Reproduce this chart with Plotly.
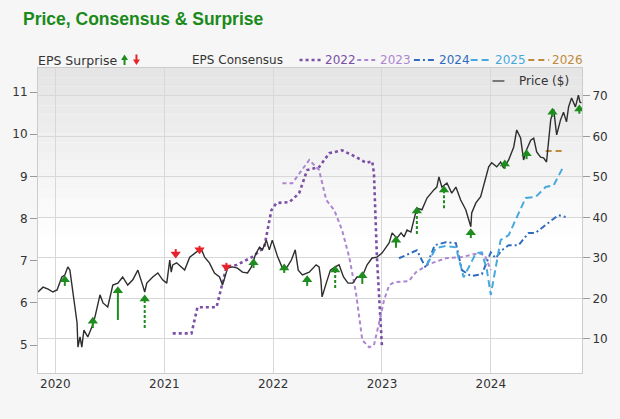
import plotly.graph_objects as go

# ---------------- data ----------------
price_dates = [
    "2019-11-04", "2019-11-21", "2019-12-08", "2019-12-24", "2020-01-07", "2020-01-23", "2020-02-02",
    "2020-02-12", "2020-02-19", "2020-02-29", "2020-03-14", "2020-03-17", "2020-03-24", "2020-03-30",
    "2020-04-06", "2020-04-19", "2020-05-03", "2020-05-13", "2020-05-30", "2020-06-09", "2020-06-25",
    "2020-07-12", "2020-07-29", "2020-08-14", "2020-08-31", "2020-09-17", "2020-10-04", "2020-10-20",
    "2020-10-27", "2020-11-03", "2020-11-23", "2020-12-10", "2020-12-26", "2021-01-09", "2021-01-19",
    "2021-01-24", "2021-01-29", "2021-02-11", "2021-03-10", "2021-03-27", "2021-04-19", "2021-05-06",
    "2021-05-16", "2021-06-01", "2021-06-18", "2021-07-05", "2021-07-15", "2021-08-01", "2021-08-17",
    "2021-09-03", "2021-09-20", "2021-10-07", "2021-10-20", "2021-11-02", "2021-11-16", "2021-11-26",
    "2021-12-09", "2021-12-19", "2021-12-29", "2022-01-15", "2022-02-01", "2022-02-17", "2022-03-03",
    "2022-03-16", "2022-03-26", "2022-04-09", "2022-05-02", "2022-05-25", "2022-06-04", "2022-06-10",
    "2022-06-14", "2022-06-28", "2022-07-12", "2022-07-28", "2022-08-10", "2022-08-25", "2022-09-09",
    "2022-09-25", "2022-10-09", "2022-10-26", "2022-11-12", "2022-11-29", "2022-12-15", "2023-01-01",
    "2023-01-14", "2023-01-25", "2023-02-04", "2023-02-20", "2023-03-06", "2023-03-16", "2023-03-26",
    "2023-04-08", "2023-04-18", "2023-04-24", "2023-04-28", "2023-05-15", "2023-06-01", "2023-06-24",
    "2023-07-04", "2023-07-11", "2023-07-21", "2023-08-07", "2023-08-23", "2023-09-06", "2023-09-22",
    "2023-10-09", "2023-10-19", "2023-10-26", "2023-10-29", "2023-11-12", "2023-11-28", "2023-12-15",
    "2023-12-25", "2024-01-04", "2024-01-21", "2024-02-03", "2024-02-13", "2024-03-01", "2024-03-18",
    "2024-03-28", "2024-04-10", "2024-04-20", "2024-04-30", "2024-05-14", "2024-05-24", "2024-06-03",
    "2024-06-16", "2024-06-26", "2024-07-06", "2024-07-20", "2024-07-30", "2024-08-09", "2024-08-22",
    "2024-09-01", "2024-09-11", "2024-09-18", "2024-09-28", "2024-10-11", "2024-10-21", "2024-10-26",
    "2024-10-31",
]
price_values = [
    21.6, 22.8, 22.3, 21.6, 22.1, 25.3, 25.8,
    27.8, 27.0, 21.6, 14.0, 8.0, 10.5, 8.0,
    12.2, 10.5, 13.0, 15.4, 20.9, 18.9, 17.9,
    23.3, 23.8, 25.3, 23.3, 24.6, 27.0, 23.3,
    21.6, 23.8, 25.3, 26.3, 24.6, 23.8, 29.5,
    26.5, 28.3, 28.8, 27.0, 30.2, 31.5, 32.0,
    30.2, 28.8, 26.3, 25.3, 23.3, 27.5, 27.8,
    27.5, 26.5, 26.3, 27.8, 30.7, 32.7, 32.0,
    34.4, 32.0, 34.4, 30.5, 27.5, 27.8, 29.5,
    32.0, 27.0, 25.8, 26.5, 28.3, 27.8, 24.6,
    20.4, 23.8, 27.0, 27.8, 28.3, 25.3, 23.8,
    23.8, 25.3, 25.3, 28.3, 30.0, 30.2, 31.2,
    32.7, 33.7, 36.2, 34.9, 36.2, 35.2, 36.9,
    36.4, 39.4, 41.4, 42.3, 41.9, 44.8, 46.8,
    47.5, 50.0, 47.5, 48.5, 46.0, 47.5, 44.3,
    41.9, 39.4, 37.7, 41.1, 43.6, 45.1, 50.0,
    52.5, 53.5, 52.5, 53.7, 52.2, 54.2, 57.4,
    61.6, 59.6, 54.2, 56.7, 59.1, 59.6, 56.2,
    54.9, 54.7, 53.7, 64.1, 66.7, 60.4, 64.1,
    66.0, 63.6, 67.3, 69.5, 67.3, 70.2, 68.5,
    68.3,
]

eps2022_dates = ["2021-01-29", "2021-04-02", "2021-04-22", "2021-06-25", "2021-07-28", "2021-08-31",
                 "2021-10-23", "2021-12-02", "2021-12-26", "2022-01-12", "2022-02-24", "2022-03-29",
                 "2022-04-25", "2022-06-04", "2022-07-08", "2022-08-20", "2022-10-06", "2022-11-09",
                 "2022-11-29", "2022-12-05", "2022-12-15", "2023-01-01"]
eps2022_values = [5.28, 5.28, 5.90, 5.90, 6.85, 6.90, 7.09, 7.32, 8.20, 8.37, 8.39, 8.60,
                  9.15, 9.22, 9.55, 9.62, 9.46, 9.32, 9.36, 9.08, 7.09, 4.95]

eps2023_dates = ["2022-02-01", "2022-03-06", "2022-05-02", "2022-06-04", "2022-06-28", "2022-07-25",
                 "2022-08-20", "2022-09-13", "2022-10-06", "2022-10-27", "2022-11-19", "2022-12-05",
                 "2022-12-22", "2023-01-08", "2023-01-25", "2023-02-10", "2023-04-01", "2023-04-25",
                 "2023-06-07", "2023-08-03", "2023-09-26", "2023-11-22", "2023-12-12", "2024-01-01"]
eps2023_values = [8.84, 8.84, 9.39, 9.15, 8.44, 8.20, 7.73, 7.09, 6.23, 5.12, 4.95, 5.00,
                  5.52, 6.07, 6.42, 6.49, 6.52, 6.73, 6.92, 7.06, 7.09, 7.18, 7.13, 6.78]

eps2024_dates = ["2023-02-27", "2023-04-28", "2023-05-28", "2023-06-27", "2023-08-03", "2023-09-06",
                 "2023-09-26", "2023-10-26", "2023-12-02", "2024-01-01", "2024-01-17", "2024-02-07",
                 "2024-03-01", "2024-04-03", "2024-05-07", "2024-05-30", "2024-07-23", "2024-08-15",
                 "2024-09-08"]
eps2024_values = [7.06, 7.25, 6.83, 7.37, 7.44, 7.42, 6.78, 6.64, 6.68, 7.20, 7.06, 7.25,
                  7.37, 7.37, 7.66, 7.66, 7.96, 8.08, 8.04]

eps2025_dates = ["2023-06-01", "2023-06-30", "2023-08-03", "2023-09-06", "2023-10-02", "2023-10-19",
                 "2023-11-12", "2023-12-02", "2023-12-19", "2024-01-01", "2024-01-17", "2024-02-03",
                 "2024-03-01", "2024-04-27", "2024-05-30", "2024-07-03", "2024-07-30", "2024-09-01"]
eps2025_values = [6.90, 7.30, 7.35, 7.32, 6.61, 6.85, 7.18, 7.20, 6.78, 6.19, 6.85, 7.49,
                  7.61, 8.49, 8.51, 8.75, 8.79, 9.24]

eps2026_dates = ["2024-07-03", "2024-08-05", "2024-09-08"]
eps2026_values = [9.60, 9.60, 9.60]

# EPS surprise arrows (placed on the price axis): head position, tail position
surprise_dates = ["2020-02-02", "2020-05-06", "2020-07-29", "2020-10-27", "2021-02-08", "2021-04-29",
                  "2021-07-28", "2021-10-27", "2022-02-07", "2022-04-25", "2022-07-28", "2022-10-27",
                  "2023-02-17", "2023-04-28", "2023-07-28", "2023-10-26", "2024-02-17", "2024-04-30",
                  "2024-07-26", "2024-10-24"]
surprise_head = [24.6, 14.4, 21.9, 19.9, 31.0, 32.0, 27.8, 28.8, 27.5, 24.6, 27.0, 25.6,
                 34.4, 41.6, 46.8, 36.2, 53.2, 55.7, 66.0, 66.8]
surprise_tail = [23.1, 12.7, 14.7, 12.7, 32.2, 33.0, 28.8, 27.5, 26.3, 23.1, 22.6, 23.6,
                 32.5, 35.9, 42.3, 34.9, 52.0, 54.4, 64.8, 65.6]
surprise_positive = [True, True, True, True, False, False, False, True, True, True, True, True,
                     True, True, True, True, True, True, True, True]
surprise_dashed = [False, False, False, True, False, False, False, False, False, False, True, False,
                   False, True, True, False, False, False, False, False]

year_ticks = ["2020-01-01", "2021-01-01", "2022-01-01", "2023-01-01", "2024-01-01"]
year_labels = ["2020", "2021", "2022", "2023", "2024"]
eps_ticks = [5, 6, 7, 8, 9, 10, 11]
price_ticks = [10, 20, 30, 40, 50, 60, 70]

# ---------------- styles ----------------
C2022 = "#7b4fa6"
C2023 = "#ac86cf"
C2024 = "#2f6cbf"
C2025 = "#46a9dd"
C2026 = "#c08a3c"
CPRICE = "#2e2e2e"
CUP = "#1e8c1e"
CDN = "#e8222a"
FONT = "DejaVu Sans"

fig = go.Figure()

fig.add_trace(go.Scatter(x=eps2022_dates, y=eps2022_values, mode="lines",
                         line=dict(color=C2022, width=2.6, dash="dot"), yaxis="y"))
fig.add_trace(go.Scatter(x=eps2023_dates, y=eps2023_values, mode="lines",
                         line=dict(color=C2023, width=2, dash="4px,3px"), yaxis="y"))
fig.add_trace(go.Scatter(x=eps2024_dates, y=eps2024_values, mode="lines",
                         line=dict(color=C2024, width=2, dash="6px,3px,2px,3px"), yaxis="y"))
fig.add_trace(go.Scatter(x=eps2025_dates, y=eps2025_values, mode="lines",
                         line=dict(color=C2025, width=2, dash="7px,4px"), yaxis="y"))
fig.add_trace(go.Scatter(x=eps2026_dates, y=eps2026_values, mode="lines",
                         line=dict(color=C2026, width=2, dash="6px,4px"), yaxis="y"))

fig.add_trace(go.Scatter(x=price_dates, y=price_values, mode="lines",
                         line=dict(color=CPRICE, width=1.4), yaxis="y2"))

# arrow shafts
for dashed in (False, True):
    for positive in (True, False):
        xs, ys = [], []
        for d, h, t, p, ds in zip(surprise_dates, surprise_head, surprise_tail,
                                  surprise_positive, surprise_dashed):
            if ds == dashed and p == positive:
                xs += [d, d, None]
                ys += [t, h, None]
        if xs:
            fig.add_trace(go.Scatter(x=xs, y=ys, mode="lines", yaxis="y2",
                                     line=dict(color=CUP if positive else CDN, width=2,
                                               dash="3px,2px" if dashed else "solid")))

# arrow heads
up_x = [d for d, p in zip(surprise_dates, surprise_positive) if p]
up_y = [h for h, p in zip(surprise_head, surprise_positive) if p]
dn_x = [d for d, p in zip(surprise_dates, surprise_positive) if not p]
dn_y = [h for h, p in zip(surprise_head, surprise_positive) if not p]
fig.add_trace(go.Scatter(x=up_x, y=up_y, mode="markers", yaxis="y2",
                         marker=dict(symbol="triangle-up", size=9, color=CUP, line=dict(width=0))))
fig.add_trace(go.Scatter(x=dn_x, y=dn_y, mode="markers", yaxis="y2",
                         marker=dict(symbol="triangle-down", size=9, color=CDN, line=dict(width=0))))

# ---------------- layout helpers ----------------
L, R, T, B = 38, 35, 68, 46
W, H = 620, 419
PW, PH = W - L - R, H - T - B


def px(xp):
    return (xp - L) / PW


def py(yp):
    return (H - B - yp) / PH


shapes = []
# gradient in the plot background
n = 18
for i in range(n):
    frac = i / n
    g = int(229 + (255 - 229) * frac)
    col = "rgb(%d,%d,%d)" % (g, g, g)
    y1 = 1 - 0.55 * i / n
    y0 = 1 - 0.55 * (i + 1) / n
    shapes.append(dict(type="rect", xref="x domain", yref="y domain", x0=0, x1=1, y0=y0, y1=y1,
                       fillcolor=col, line=dict(width=0), layer="below"))

# legend samples
leg_y = py(60)
for (x0, x1, col, dash, w) in [(301, 323, C2022, "dot", 2.6), (359, 378, C2023, "4px,3px", 2),
                               (416, 438, C2024, "6px,3px,2px,3px", 2), (473, 495, C2025, "7px,4px", 2),
                               (531, 552, C2026, "6px,4px", 2)]:
    shapes.append(dict(type="line", xref="paper", yref="paper", x0=px(x0), x1=px(x1), y0=leg_y, y1=leg_y,
                       line=dict(color=col, width=w, dash=dash)))
# price legend line
shapes.append(dict(type="line", xref="paper", yref="paper", x0=px(495), x1=px(507), y0=py(81), y1=py(81),
                   line=dict(color="#555555", width=1.5)))
# legend arrows
shapes.append(dict(type="path", xref="paper", yref="paper",
                   path="M %f,%f L %f,%f L %f,%f Z" % (px(121.5), py(60), px(128.5), py(60), px(125), py(54.5)),
                   fillcolor=CUP, line=dict(width=0)))
shapes.append(dict(type="line", xref="paper", yref="paper", x0=px(125), x1=px(125), y0=py(59), y1=py(65),
                   line=dict(color=CUP, width=2)))
shapes.append(dict(type="path", xref="paper", yref="paper",
                   path="M %f,%f L %f,%f L %f,%f Z" % (px(133.5), py(59.5), px(140.5), py(59.5), px(137), py(65)),
                   fillcolor=CDN, line=dict(width=0)))
shapes.append(dict(type="line", xref="paper", yref="paper", x0=px(137), x1=px(137), y0=py(54.5), y1=py(60.5),
                   line=dict(color=CDN, width=2)))

annotations = [
    dict(text="<b>Price, Consensus & Surprise</b>", xref="paper", yref="paper", x=px(21), y=py(19),
         xanchor="left", yanchor="middle", showarrow=False,
         font=dict(family="Liberation Sans, Arial", size=17.5, color="#1a8a1a")),
    dict(text="EPS Surprise", xref="paper", yref="paper", x=px(36), y=leg_y, xanchor="left", yanchor="middle",
         showarrow=False, font=dict(family=FONT, size=12.5, color="#333333")),
    dict(text="EPS Consensus", xref="paper", yref="paper", x=px(191), y=leg_y, xanchor="left", yanchor="middle",
         showarrow=False, font=dict(family=FONT, size=12, color="#333333")),
    dict(text="Price ($)", xref="paper", yref="paper", x=px(520), y=py(81), xanchor="left", yanchor="middle",
         showarrow=False, font=dict(family=FONT, size=12, color="#333333")),
]
for xl, txt, col in [(325, "2022", C2022), (380, "2023", C2023), (439, "2024", C2024),
                     (496, "2025", C2025), (553, "2026", C2026)]:
    annotations.append(dict(text=txt, xref="paper", yref="paper", x=px(xl), y=leg_y, xanchor="left",
                            yanchor="middle", showarrow=False, font=dict(family=FONT, size=12, color=col)))

fig.update_layout(
    width=W, height=H,
    margin=dict(l=L, r=R, t=T, b=B, pad=0),
    paper_bgcolor="#f6f6f6",
    plot_bgcolor="#ffffff",
    showlegend=False,
    font=dict(family=FONT, size=12, color="#333333"),
    shapes=shapes,
    annotations=annotations,
    xaxis=dict(type="date", range=["2019-11-04", "2024-11-02"], tickvals=year_ticks, ticktext=year_labels,
               showgrid=True, gridcolor="#d8d8d8", gridwidth=1, ticks="", zeroline=False,
               showline=True, linecolor="#cccccc", mirror=True,
               tickfont=dict(family=FONT, size=12, color="#333333")),
    yaxis=dict(range=[4.34, 11.57], tickvals=eps_ticks, showgrid=False, zeroline=False,
               ticks="outside", ticklen=7, tickcolor="#999999", showline=True, linecolor="#cccccc",
               tickfont=dict(family=FONT, size=12, color="#333333")),
    yaxis2=dict(range=[1.6, 76.9], tickvals=price_ticks, overlaying="y", side="right",
                showgrid=True, gridcolor="#d8d8d8", gridwidth=1, zeroline=False,
                ticks="outside", ticklen=7, tickcolor="#999999", showline=True, linecolor="#cccccc",
                tickfont=dict(family=FONT, size=12, color="#333333")),
)

fig.write_html("out.html", config={"displayModeBar": False},
               post_script="document.body.style.margin='0px';document.body.style.background='#f6f6f6';")
